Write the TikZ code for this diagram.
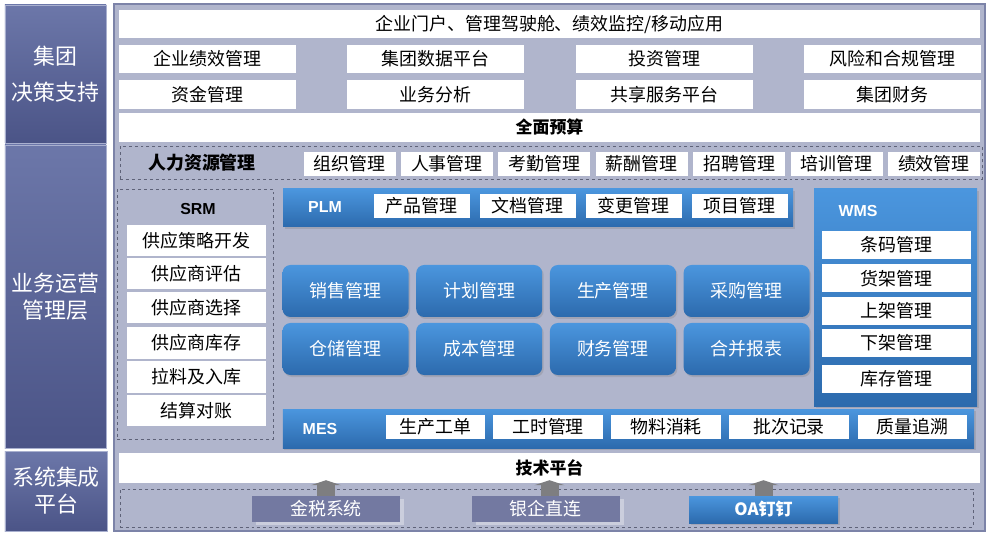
\documentclass[tikz,border=0pt]{standalone}
\usepackage{fontspec}
\setmainfont{Noto Sans CJK SC}
\newfontfamily\tagfont{Liberation Sans}
\usepackage{tikz}
\definecolor{boardfill}{HTML}{B0B5CC}
\definecolor{boardline}{HTML}{7C83A8}
\definecolor{sidetop}{HTML}{6C77A9}
\definecolor{sidebot}{HTML}{4B5487}
\definecolor{sideline}{HTML}{A9B0CF}
\definecolor{bluetop}{HTML}{4B96DE}
\definecolor{bluebot}{HTML}{2C6AAD}
\definecolor{groupline}{HTML}{5E6278}
\definecolor{ifacefill}{HTML}{7379A1}
\definecolor{arrowgray}{HTML}{7E7E80}
\tikzset{
  side/.style={top color=sidetop, bottom color=sidebot, draw=sideline, line width=0.6pt,
    text=white, align=center, inner sep=0pt, font=\fontsize{22}{27}\selectfont},
  board/.style={fill=boardfill, draw=boardline, line width=1.5pt, inner sep=0pt},
  whitebar/.style={fill=white, inner sep=0pt, font=\fontsize{18}{20}\selectfont},
  item/.style={fill=white, inner sep=0pt, font=\fontsize{18}{20}\selectfont},
  group/.style={draw=groupline, dashed, line width=0.5pt, inner sep=0pt},
  bluebar/.style={top color=bluetop, bottom color=bluebot, inner sep=0pt,
    drop shadow={opacity=0.3, shadow xshift=1.5bp, shadow yshift=-2bp}},
  module/.style={bluebar, rounded corners=8bp, text=white, minimum width=126bp,
    minimum height=52bp, font=\fontsize{18}{20}\selectfont},
  tag/.style={text=white, font=\tagfont\bfseries\fontsize{16}{19}\selectfont},
  iface/.style={fill=ifacefill, text=white, inner sep=0pt, minimum width=148bp,
    minimum height=26bp, font=\fontsize{18}{20}\selectfont,
    drop shadow={fill=white, opacity=0.35, shadow xshift=4bp, shadow yshift=-3bp}},
  link/.style={draw=arrowgray, line width=18bp, shorten >=-3bp,
    -{Triangle[width=30bp,length=5bp]}},
}
\usetikzlibrary{arrows.meta,shadows}

\begin{document}
\begin{tikzpicture}[x=1bp,y=-1bp]
  \useasboundingbox (0,0) rectangle (990,540);

  \node[side, minimum width=101bp, minimum height=138bp] (jituan) at (55.5,74)
      {集团\\[9bp]决策支持};
  \node[side, minimum width=101bp, minimum height=303bp] (yunying) at (55.5,296.5)
      {业务运营\\管理层};
  \node[side, minimum width=102bp, minimum height=80bp] (jicheng) at (56,491)
      {系统集成\\平台};

  \node[board, minimum width=871bp, minimum height=527bp] (main) at (549.5,267.5) {};

  \node[whitebar, minimum width=861bp, minimum height=28bp] (portal) at (549.5,24)
      {企业门户、管理驾驶舱、绩效监控/移动应用};
  \foreach \x/\t [count=\i] in {207.5/企业绩效管理, 435.5/集团数据平台, 664.5/投资管理, 892.5/风险和合规管理}
    \node[item, minimum width=177bp, minimum height=28bp] (jc\i) at (\x,59) {\t};
  \foreach \x/\t [count=\i] in {207.5/资金管理, 435.5/业务分析, 664.5/共享服务平台, 892.5/集团财务}
    \node[item, minimum width=177bp, minimum height=29bp] (cw\i) at (\x,94.5) {\t};
  \node[whitebar, minimum width=861bp, minimum height=29bp, font=\bfseries\fontsize{17}{20}\selectfont]
      (budget) at (549.5,127.5) {全面预算};

  \node[group, minimum width=862bp, minimum height=33bp] (hr) at (551,162.5) {};
  \node[font=\bfseries\fontsize{18}{20}\selectfont] (hrlabel) at (202,163) {人力资源管理};
  \foreach \t [count=\i] in {组织管理, 人事管理, 考勤管理, 薪酬管理, 招聘管理, 培训管理, 绩效管理}
    \node[item, minimum width=92bp, minimum height=24bp] (hr\i) at ({349.5+97.4*(\i-1)},164) {\t};

  \node[group, minimum width=156bp, minimum height=250bp] (srm) at (195,314) {};
  \node[font=\tagfont\bfseries\fontsize{16}{19}\selectfont] (srmlabel) at (198,209) {SRM};
  \foreach \y/\t [count=\i] in {240.5/供应策略开发, 273.5/供应商评估, 308/供应商选择, 343/供应商库存, 377/拉料及入库, 410.5/结算对账}
    \node[item, minimum width=139bp, minimum height=31bp] (srm\i) at (196.5,\y) {\t};

  \node[bluebar, minimum width=510bp, minimum height=38bp] (plm) at (538,208) {};
  \node[tag] (plmlabel) at (325,207) {PLM};
  \foreach \x/\t [count=\i] in {421.5/产品管理, 527.5/文档管理, 633.5/变更管理, 739.5/项目管理}
    \node[item, minimum width=96bp, minimum height=24bp] (plm\i) at (\x,206) {\t};

  \foreach \t [count=\i] in {销售管理, 计划管理, 生产管理, 采购管理}
    \node[module] (ma\i) at ({345.5+133.7*(\i-1)},291) {\t};
  \foreach \t [count=\i] in {仓储管理, 成本管理, 财务管理, 合并报表}
    \node[module] (mb\i) at ({345.5+133.7*(\i-1)},349) {\t};

  \node[bluebar, minimum width=163bp, minimum height=217bp] (wms) at (895.5,297.5) {};
  \node[tag] (wmslabel) at (858,211) {WMS};
  \foreach \y/\t [count=\i] in {245/条码管理, 278.5/货架管理, 311/上架管理, 343/下架管理, 378.5/库存管理}
    \node[item, minimum width=149bp, minimum height=28bp] (wms\i) at (896.5,\y) {\t};

  \node[bluebar, minimum width=691bp, minimum height=39bp] (mes) at (628.5,428.5) {};
  \node[tag] (meslabel) at (320,429) {MES};
  \foreach \x/\w/\t [count=\i] in {435.5/99/生产工单, 548/110/工时管理, 666/110/物料消耗, 789/120/批次记录, 912.5/109/质量追溯}
    \node[item, minimum width=\w bp, minimum height=24bp] (mes\i) at (\x,427) {\t};

  \node[whitebar, minimum width=861bp, minimum height=30bp, font=\bfseries\fontsize{17}{20}\selectfont]
      (tech) at (549.5,468) {技术平台};
  \node[group, minimum width=853bp, minimum height=38bp] (ifaces) at (546.5,508) {};
  \node[iface] (jinshui) at (326,509) {金税系统};
  \node[iface] (yinqi) at (545.5,509) {银企直连};
  \node[bluebar, minimum width=149bp, minimum height=27bp, text=white,
      font=\bfseries\fontsize{17}{20}\selectfont] (oa) at (763.5,509.5) {OA钉钉};

  \draw[link] (jinshui.north) -- (jinshui.north |- tech.south);
  \draw[link] ([xshift=4bp]yinqi.north) -- ([xshift=4bp]yinqi.north |- tech.south);
  \draw[link] (oa.north) -- (oa.north |- tech.south);

\end{tikzpicture}
\end{document}
